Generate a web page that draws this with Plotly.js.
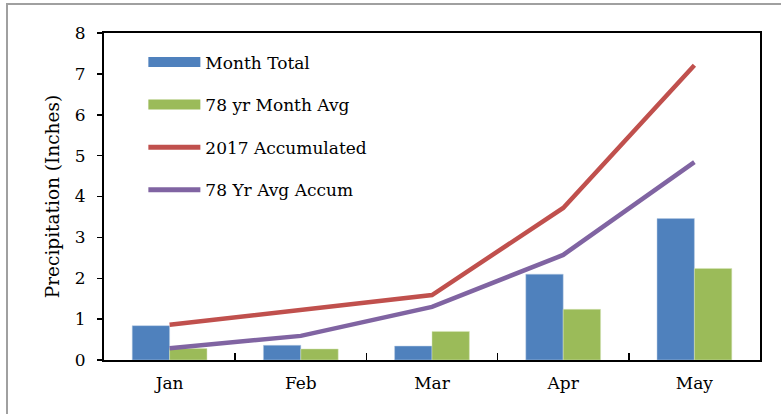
<!DOCTYPE html>
<html><head><meta charset="utf-8">
<script src="https://cdn.plot.ly/plotly-3.0.1.min.js"></script>
<style>
html,body{margin:0;padding:0;background:#fff;}
#wrap{position:absolute;left:0;top:0;width:781px;height:414px;}
#frame{position:absolute;left:6px;top:3px;width:800px;height:420px;border-left:2px solid #a0a0a0;border-top:2px solid #a0a0a0;pointer-events:none;}
#chart{position:absolute;left:0;top:0;width:781px;height:414px;}
</style></head>
<body><div id="wrap"><div id="chart"></div><div id="frame"></div></div>
<script>
const months = ["Jan","Feb","Mar","Apr","May"];
const monthTotal = [0.84, 0.36, 0.34, 2.10, 3.46];
const monthAvg78 = [0.28, 0.27, 0.70, 1.24, 2.24];
const accum2017 = [0.86, 1.23, 1.59, 3.72, 7.21];
const accumAvg78 = [0.29, 0.59, 1.30, 2.57, 4.84];
const yTicks = [0,1,2,3,4,5,6,7,8];
const seriesNames = ["Month Total","78 yr Month Avg","2017 Accumulated","78 Yr Avg Accum"];
const colors = ["#4f81bd","#9bbb59","#c0504d","#8064a2"];

const FONT = "DejaVu Serif, Liberation Serif, serif";
const traces = [
  {type:"bar", x:months, y:monthTotal, name:seriesNames[0], showlegend:false, legendgroup:"a",
   marker:{color:colors[0], line:{color:"#b9cde5", width:0.5}}},
  {type:"bar", x:months, y:monthAvg78, name:seriesNames[1], showlegend:false, legendgroup:"b",
   marker:{color:colors[1], line:{color:"#d7e4bd", width:0.5}}},
  {type:"scatter", mode:"lines", x:months, y:accum2017, name:seriesNames[2], showlegend:false, legendgroup:"c",
   line:{color:colors[2], width:4.5}},
  {type:"scatter", mode:"lines", x:months, y:accumAvg78, name:seriesNames[3], showlegend:false, legendgroup:"d",
   line:{color:colors[3], width:4.5}},
  // legend entries (no data of their own)
  {type:"scatter", mode:"lines", x:[null], y:[null], name:seriesNames[0], legendgroup:"a", line:{color:colors[0], width:12}},
  {type:"scatter", mode:"lines", x:[null], y:[null], name:seriesNames[1], legendgroup:"b", line:{color:colors[1], width:12}},
  {type:"scatter", mode:"lines", x:[null], y:[null], name:seriesNames[2], legendgroup:"c", line:{color:colors[2], width:5}},
  {type:"scatter", mode:"lines", x:[null], y:[null], name:seriesNames[3], legendgroup:"d", line:{color:colors[3], width:5}}
];
const layout = {
  width:781, height:414,
  margin:{l:104, r:21, t:33, b:54},
  paper_bgcolor:"#fff", plot_bgcolor:"#fff",
  font:{family:FONT, size:16, color:"#000"},
  barmode:"group", bargap:0.43, bargroupgap:0,
  showlegend:true,
  legend:{x:0.06, y:0.965, xanchor:"left", yanchor:"top", bgcolor:"rgba(0,0,0,0)",
          traceorder:"grouped", tracegroupgap:17.5, itemwidth:52, font:{family:FONT, size:17}},
  xaxis:{type:"category", showline:true, linecolor:"#000", linewidth:2, mirror:true,
         ticks:"inside", tickson:"boundaries", ticklen:7, tickcolor:"#000", tickwidth:1.5,
         ticklabelstandoff:7,
         showgrid:false, zeroline:false, tickfont:{family:FONT, size:17}},
  yaxis:{range:[0,8], tickvals:yTicks, showline:true, linecolor:"#000", linewidth:2, mirror:true,
         ticks:"outside", ticklen:5, tickcolor:"#000", tickwidth:1.5, ticklabelstandoff:8,
         showgrid:false, zeroline:false, tickfont:{family:FONT, size:17},
         title:{text:"Precipitation (Inches)", font:{family:FONT, size:18.5}, standoff:10}}
};
Plotly.newPlot("chart", traces, layout, {displayModeBar:false, staticPlot:true});
</script></body></html>
